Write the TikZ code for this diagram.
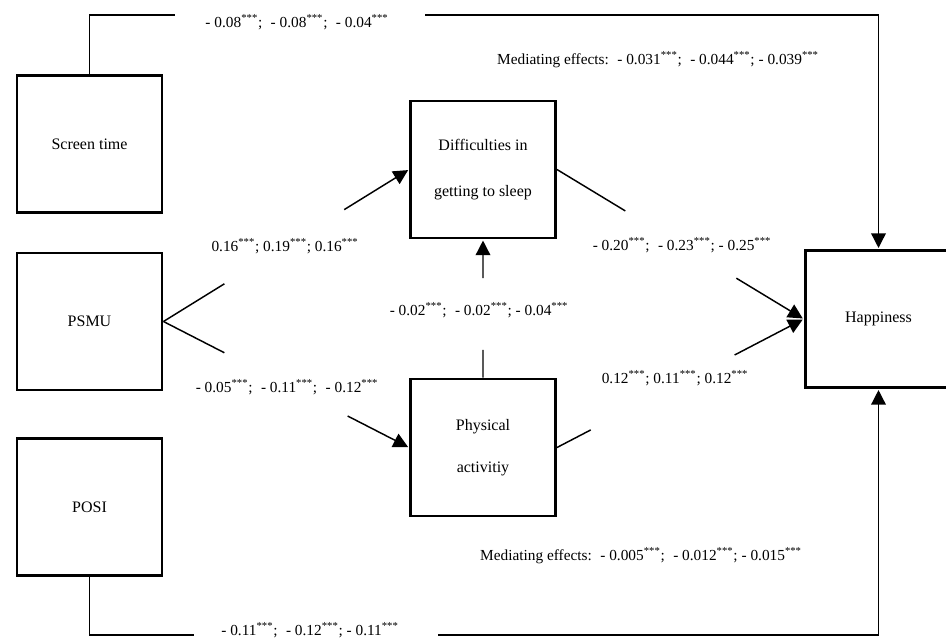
\documentclass[tikz,border=0pt]{standalone}
\usepackage{fontspec}
\setmainfont{Liberation Serif}
\usetikzlibrary{arrows.meta,calc}
\newcommand\sigs{\textsuperscript{***}}
\newcommand\wsp{\hspace{0.55em}}
\begin{document}
\begin{tikzpicture}[x=0.75pt,y=-0.75pt,
  box/.style={draw, line width=2.2pt, inner sep=0pt, align=center,
    minimum width=108.75pt, minimum height=102.75pt,
    font=\fontsize{12}{14}\selectfont},
  link/.style={line width=1.1pt},
  tip/.style={-{Triangle[length=11pt,width=11pt]}, shorten >=0.8pt},
  coef/.style={font=\fontsize{11.5}{13}\selectfont, inner sep=0pt}]
\useasboundingbox (0,0) rectangle (946,637);

% variables
\node[box] (st)   at (89.5,144)   {Screen time};
\node[box] (psmu) at (89.5,321.5) {PSMU};
\node[box] (posi) at (89.5,507)   {POSI};
\node[box] (diff) at (483,169.5)  {Difficulties in\\[20pt]getting to sleep};
\node[box] (phys) at (483,447.5)  {Physical\\[18pt]activitiy};
\node[box, minimum width=110pt] (hap) at (878.5,319) {\raisebox{-2pt}{Happiness}};

% direct path from screen time along the top
\coordinate (tA) at (89.5,15);
\coordinate (tB) at (175,15);
\coordinate (tC) at (425,15);
\coordinate (tD) at (878.5,15);
\draw[link] (st.north) -- (tA) -- (tB);
\draw[link,tip] (tC) -- (tD) -- (hap.north);
\node[coef] (lt) at (297,22) {- 0.08\sigs;\wsp - 0.08\sigs;\wsp - 0.04\sigs};

% direct path from POSI along the bottom
\coordinate (bA) at (89.5,635);
\coordinate (bB) at (194,635);
\coordinate (bC) at (438,635);
\coordinate (bD) at (878.5,635);
\draw[link] (posi.south) -- (bA) -- (bB);
\draw[link,tip] (bC) -- (bD) -- (hap.south);
\node[coef] (lb) at (310,630) {- 0.11\sigs;\wsp - 0.12\sigs; - 0.11\sigs};

% PSMU to the mediators
\draw[link] (psmu.east) -- ($(psmu.east)!0.248!(diff.west)$);
\draw[link,tip] ($(psmu.east)!0.736!(diff.west)$) -- (diff.west);
\node[coef] (l1) at (285,246) {0.16\sigs; 0.19\sigs; 0.16\sigs};

\draw[link] (psmu.east) -- ($(psmu.east)!0.248!(phys.west)$);
\draw[link,tip] ($(psmu.east)!0.75!(phys.west)$) -- (phys.west);
\node[coef] (l2) at (287,387) {- 0.05\sigs;\wsp - 0.11\sigs;\wsp - 0.12\sigs};

% physical activity to sleep difficulties
\draw[link] (phys.north) -- ($(phys.north)!0.2!(diff.south)$);
\draw[link,tip] ($(phys.north)!0.72!(diff.south)$) -- (diff.south);
\node[coef] (l3) at (479,310) {- 0.02\sigs;\wsp - 0.02\sigs; - 0.04\sigs};

% mediators to happiness
\draw[link] (diff.east) -- ($(diff.east)!0.277!(hap.west)$);
\draw[link,tip] ($(diff.east)!0.727!(hap.west)$) -- (hap.west);
\node[coef] (l4) at (682,245) {- 0.20\sigs;\wsp - 0.23\sigs; - 0.25\sigs};

\draw[link] (phys.east) -- ($(phys.east)!0.137!(hap.west)$);
\draw[link,tip] ($(phys.east)!0.72!(hap.west)$) -- (hap.west);
\node[coef] (l5) at (675,378) {0.12\sigs; 0.11\sigs; 0.12\sigs};

% indirect effects
\node[coef] (m1) at (658,60)  {Mediating effects:\wsp - 0.031\sigs;\wsp - 0.044\sigs; - 0.039\sigs};
\node[coef] (m2) at (641,556) {Mediating effects:\wsp - 0.005\sigs;\wsp - 0.012\sigs; - 0.015\sigs};
\end{tikzpicture}
\end{document}
